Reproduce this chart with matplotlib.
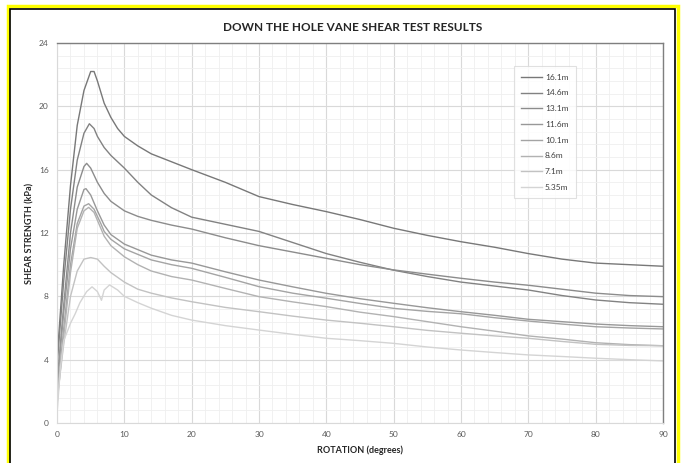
import matplotlib.pyplot as plt
from matplotlib.patches import Rectangle
from matplotlib.ticker import MultipleLocator

# depth labels and grey shades (darkest = deepest)
depths = ["16.1m", "14.6m", "13.1m", "11.6m", "10.1m", "8.6m", "7.1m", "5.35m"]
shades = ["#787878", "#828282", "#8c8c8c", "#989898", "#a4a4a4", "#b2b2b2", "#c2c2c2", "#d4d4d4"]

# rotation (deg) / shear strength (kPa)
rot_161 = [0, 1, 2, 3, 4, 5, 5.5, 6, 7, 8, 9, 10, 12, 14, 17, 20, 25, 30, 35, 40, 45, 50, 55, 60, 65, 70, 75, 80, 85, 90]
ss_161 = [4.0, 10.0, 15.0, 18.8, 21.0, 22.2, 22.2, 21.6, 20.2, 19.3, 18.6, 18.1, 17.5, 17.0, 16.5, 16.0, 15.2, 14.3, 13.8, 13.35, 12.85, 12.3, 11.85, 11.45, 11.1, 10.7, 10.35, 10.1, 10.0, 9.9]

rot_146 = [0, 1, 2, 3, 4, 4.8, 5.5, 6, 7, 8, 10, 12, 14, 17, 20, 25, 30, 35, 40, 45, 50, 55, 60, 65, 70, 75, 80, 85, 90]
ss_146 = [3.6, 9.0, 13.5, 16.6, 18.3, 18.9, 18.6, 18.1, 17.4, 16.9, 16.1, 15.2, 14.4, 13.6, 13.0, 12.55, 12.1, 11.4, 10.7, 10.15, 9.65, 9.25, 8.9, 8.65, 8.4, 8.05, 7.77, 7.6, 7.5]

rot_131 = [0, 1, 2, 3, 4, 4.4, 5, 6, 7, 8, 10, 12, 14, 17, 20, 25, 30, 35, 40, 45, 50, 55, 60, 65, 70, 75, 80, 85, 90]
ss_131 = [2.5, 7.5, 12.0, 14.9, 16.2, 16.4, 16.1, 15.2, 14.5, 14.0, 13.4, 13.05, 12.8, 12.5, 12.25, 11.7, 11.2, 10.8, 10.4, 10.0, 9.67, 9.4, 9.14, 8.9, 8.7, 8.45, 8.2, 8.05, 7.98]

rot_116 = [0, 1, 2, 3, 4, 4.3, 5, 6, 7, 8, 10, 12, 14, 17, 20, 25, 30, 35, 40, 45, 50, 55, 60, 65, 70, 75, 80, 85, 90]
ss_116 = [2.3, 7.0, 11.0, 13.5, 14.75, 14.8, 14.4, 13.4, 12.5, 11.9, 11.3, 10.95, 10.6, 10.3, 10.1, 9.55, 9.03, 8.6, 8.19, 7.85, 7.56, 7.28, 7.03, 6.8, 6.55, 6.4, 6.25, 6.15, 6.08]

rot_101 = [0, 1, 2, 3, 4, 4.7, 5.5, 6.5, 7, 8, 10, 12, 14, 17, 20, 25, 30, 35, 40, 45, 50, 55, 60, 65, 70, 75, 80, 85, 90]
ss_101 = [1.5, 6.0, 10.0, 12.6, 13.7, 13.85, 13.5, 12.6, 12.1, 11.6, 11.0, 10.65, 10.3, 10.0, 9.77, 9.2, 8.61, 8.2, 7.88, 7.55, 7.24, 7.05, 6.9, 6.65, 6.44, 6.25, 6.08, 6.0, 5.94]

rot_86 = [0, 1, 2, 3, 4, 4.7, 5.5, 6.5, 7, 8, 10, 12, 14, 17, 20, 25, 30, 35, 40, 45, 50, 55, 60, 65, 70, 75, 80, 85, 90]
ss_86 = [1.2, 5.5, 9.5, 12.3, 13.4, 13.62, 13.3, 12.3, 11.8, 11.2, 10.5, 10.0, 9.6, 9.25, 9.03, 8.5, 7.98, 7.65, 7.35, 7.0, 6.72, 6.4, 6.08, 5.8, 5.5, 5.3, 5.07, 4.95, 4.88]

rot_71 = [0, 1, 2, 3, 4, 5, 6, 7, 8, 10, 12, 14, 17, 20, 25, 30, 35, 40, 45, 50, 55, 60, 65, 70, 75, 80, 85, 90]
ss_71 = [1.5, 5.0, 8.0, 9.6, 10.35, 10.45, 10.35, 9.9, 9.5, 8.9, 8.45, 8.2, 7.9, 7.66, 7.3, 7.03, 6.75, 6.5, 6.3, 6.08, 5.85, 5.67, 5.5, 5.35, 5.15, 4.97, 4.9, 4.88]

rot_535 = [0, 0.5, 1, 2, 2.7, 3.4, 4.4, 5.2, 6, 6.6, 7, 7.8, 9, 10, 12, 14, 17, 20, 25, 30, 35, 40, 45, 50, 55, 60, 65, 70, 75, 80, 85, 90]
ss_535 = [0.6, 3.5, 5.2, 6.3, 6.9, 7.6, 8.3, 8.6, 8.3, 7.75, 8.4, 8.72, 8.4, 8.0, 7.6, 7.25, 6.8, 6.5, 6.15, 5.87, 5.6, 5.35, 5.2, 5.03, 4.8, 4.61, 4.45, 4.3, 4.2, 4.09, 4.0, 3.92]

rotations = [rot_161, rot_146, rot_131, rot_116, rot_101, rot_86, rot_71, rot_535]
strengths = [ss_161, ss_146, ss_131, ss_116, ss_101, ss_86, ss_71, ss_535]

plt.rcParams['font.family'] = ['Lato', 'DejaVu Sans']

fig = plt.figure(figsize=(6.83, 4.63), dpi=100)
ax = fig.add_axes([0.0835, 0.0864, 0.8872, 0.8207])

for x, y, lab, c in zip(rotations, strengths, depths, shades):
    ax.plot(x, y, color=c, linewidth=1.0, label=lab)

ax.set_xlim(0, 90)
ax.set_ylim(0, 24)
ax.xaxis.set_major_locator(MultipleLocator(10))
ax.xaxis.set_minor_locator(MultipleLocator(2))
ax.yaxis.set_major_locator(MultipleLocator(4))
ax.yaxis.set_minor_locator(MultipleLocator(0.8))
ax.grid(which='major', color='#d9d9d9', linewidth=0.8)
ax.grid(which='minor', color='#efefef', linewidth=0.6)
ax.set_axisbelow(True)
ax.tick_params(which='both', length=0, labelsize=6, colors='#595959', pad=6)

for side in ['top', 'right']:
    ax.spines[side].set_color('#7f7f7f')
    ax.spines[side].set_linewidth(1.0)
for side in ['left', 'bottom']:
    ax.spines[side].set_color('#d9d9d9')
    ax.spines[side].set_linewidth(0.8)

ax.set_xlabel('ROTATION (degrees)', fontsize=6.5, fontweight='bold', color='#262626', labelpad=5)
ax.set_ylabel('SHEAR STRENGTH (kPa)', fontsize=6.5, fontweight='bold', color='#262626', labelpad=3)

leg = ax.legend(loc='upper right', bbox_to_anchor=(0.863, 0.95), fontsize=6, frameon=True,
                fancybox=False, handlelength=2.5, labelspacing=1.05, borderpad=0.9,
                handletextpad=0.3)
leg.get_frame().set_edgecolor('#d9d9d9')
leg.get_frame().set_linewidth(0.8)
for t in leg.get_texts():
    t.set_color('#404040')

fig.text(0.517, 0.94, 'DOWN THE HOLE VANE SHEAR TEST RESULTS', ha='center', va='center',
         fontsize=8.5, fontweight='bold', color='#262626')

# yellow frame with black inner line
fig.patches.append(Rectangle((0.011, -0.02), 0.982, 1.006, transform=fig.transFigure,
                             fill=False, edgecolor='#ffff00', linewidth=2.5))
fig.patches.append(Rectangle((0.015, -0.02), 0.974, 1.0, transform=fig.transFigure,
                             fill=False, edgecolor='black', linewidth=1.2))

plt.savefig('out.png', dpi=100)
